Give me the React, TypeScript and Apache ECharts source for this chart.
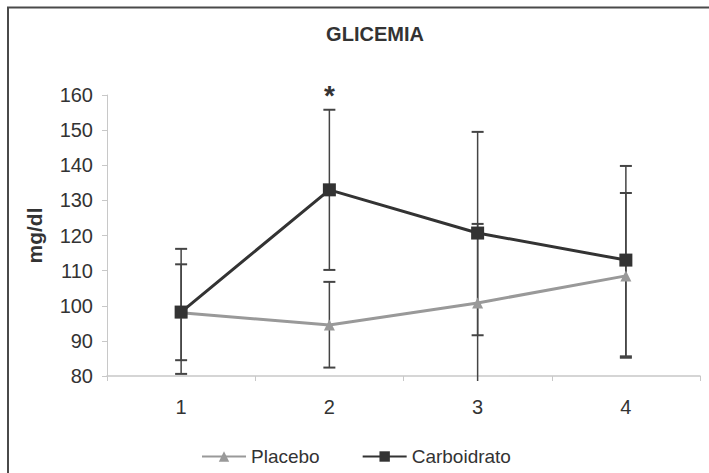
import React, { useEffect, useRef } from "react";
import * as echarts from "echarts";

const categories = ["1", "2", "3", "4"];
const placebo = [98, 94.5, 100.8, 108.5];
const placeboLow = [84.5, 82.4, 78.3, 85.2];
const placeboHigh = [111.8, 106.8, 123.3, 132.1];
const carbo = [98.2, 133, 120.7, 113];
const carboLow = [80.6, 110.2, 91.6, 85.6];
const carboHigh = [116.2, 155.8, 149.5, 139.8];
const yTicks = [80, 160, 10];

const errData = (low: number[], high: number[]) =>
  categories.map((_, i) => [i, low[i], high[i]]);

export default function App() {
  const ref = useRef<HTMLDivElement>(null);
  useEffect(() => {
    if (!ref.current) return;
    const chart = echarts.init(ref.current, undefined, { renderer: "svg" });
    const font = "Liberation Sans, Arial, sans-serif";
    const renderErr = (params: any, api: any) => {
      const x = api.value(0);
      const lo = api.value(1);
      const hi = api.value(2);
      const pLo = api.coord([x, lo]);
      const pHi = api.coord([x, hi]);
      const w = 6;
      const style = { stroke: "#444", lineWidth: 1.5 };
      const children: any[] = [
        { type: "line", shape: { x1: pHi[0], y1: pHi[1], x2: pLo[0], y2: Math.min(pLo[1], api.coord([x, yTicks[0]])[1] + 5) }, style },
        { type: "line", shape: { x1: pHi[0] - w, y1: pHi[1], x2: pHi[0] + w, y2: pHi[1] }, style: { stroke: "#444", lineWidth: 2 } },
      ];
      if (lo >= yTicks[0]) {
        children.push({ type: "line", shape: { x1: pLo[0] - w, y1: pLo[1], x2: pLo[0] + w, y2: pLo[1] }, style: { stroke: "#444", lineWidth: 2 } });
      }
      return { type: "group", children };
    };
    chart.setOption({
      animation: false,
      textStyle: { fontFamily: font },
      title: {
        text: "GLICEMIA",
        left: 370,
        textAlign: "center",
        top: 19,
        textStyle: { fontSize: 20, fontWeight: "bold", color: "#333", fontFamily: font },
      },
      graphic: [
        {
          type: "rect",
          shape: { x: 8, y: 7.5, width: 720, height: 500 },
          style: { fill: "none", stroke: "#4a4a4a", lineWidth: 2 },
          silent: true,
        },
      ],
      legend: {
        top: 442,
        left: 196,
        itemWidth: 44,
        itemHeight: 13,
        itemGap: 42,
        textStyle: { fontSize: 19, color: "#333", fontFamily: font },
        data: ["Placebo", "Carboidrato"],
      },
      grid: { left: 107, right: 9, top: 95, bottom: 97 },
      xAxis: {
        type: "category",
        data: categories,
        boundaryGap: true,
        axisLine: { lineStyle: { color: "#c8c8c8", width: 1.5 } },
        axisTick: { show: true, length: 5, lineStyle: { color: "#c8c8c8" } },
        axisLabel: { fontSize: 20, color: "#333", margin: 21, fontFamily: font },
      },
      yAxis: {
        type: "value",
        min: yTicks[0],
        max: yTicks[1],
        interval: yTicks[2],
        name: "mg/dl",
        nameLocation: "middle",
        nameGap: 62,
        nameTextStyle: { fontSize: 21, fontWeight: "bold", color: "#333", fontFamily: font },
        splitLine: { show: false },
        axisLine: { show: true, lineStyle: { color: "#c8c8c8", width: 1 } },
        axisTick: { show: true, length: 5, lineStyle: { color: "#c8c8c8" } },
        axisLabel: { fontSize: 20, color: "#333", margin: 14, fontFamily: font },
      },
      series: [
        {
          name: "Placebo err",
          type: "custom",
          renderItem: renderErr,
          data: errData(placeboLow, placeboHigh),
          clip: false,
          z: 1,
          silent: true,
        },
        {
          name: "Carboidrato err",
          type: "custom",
          renderItem: renderErr,
          data: errData(carboLow, carboHigh),
          clip: false,
          z: 1,
          silent: true,
        },
        {
          name: "Placebo",
          type: "line",
          data: placebo,
          symbol: "triangle",
          symbolSize: 11,
          z: 3,
          lineStyle: { color: "#999", width: 3 },
          itemStyle: { color: "#999" },
        },
        {
          name: "Carboidrato",
          type: "line",
          data: carbo,
          symbol: "rect",
          symbolSize: 13,
          z: 4,
          lineStyle: { color: "#333", width: 3 },
          itemStyle: { color: "#333" },
          markPoint: {
            symbol: "circle",
            symbolSize: 1,
            itemStyle: { color: "rgba(0,0,0,0)" },
            label: {
              show: true,
              position: "top",
              distance: 0,
              formatter: "*",
              fontSize: 28,
              fontWeight: "bold",
              color: "#333",
              fontFamily: font,
            },
            data: [{ coord: [1, carboHigh[1]] }],
          },
        },
      ],
    });
    return () => chart.dispose();
  }, []);
  return (
    <div
      ref={ref}
      style={{ position: "fixed", left: 0, top: 0, width: 709, height: 473, background: "#fff" }}
    />
  );
}
